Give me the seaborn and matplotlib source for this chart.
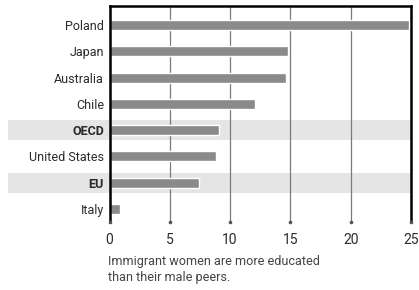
import matplotlib
matplotlib.use("Agg")
import matplotlib.pyplot as plt
import matplotlib.transforms as mtransforms
import seaborn as sns
import pandas as pd

categories = ["Poland", "Japan", "Australia", "Chile", "OECD", "United States", "EU", "Italy"]
values = [24.8, 14.8, 14.6, 12.1, 9.1, 8.8, 7.4, 0.9]
highlight = ["OECD", "EU"]
xticks = [0, 5, 10, 15, 20, 25]
caption = "Immigrant women are more educated\nthan their male peers."

sns.set_theme(style="white")
plt.rcParams['font.family'] = ['Roboto', 'DejaVu Sans']

df = pd.DataFrame({"country": categories, "value": values})

fig = plt.figure(figsize=(4.19, 2.90), dpi=100)
ax = fig.add_axes([109.5/419, 1-222/290, (411-109.5)/419, (222-6)/290])

ylo, yhi = 7.494, -0.723
trans = mtransforms.blended_transform_factory(ax.transAxes, ax.transData)
x0 = (8-109.5)/301.5
for i, c in enumerate(categories):
    if c in highlight:
        ax.add_patch(plt.Rectangle((x0, i-0.38), 1-x0, 0.76, transform=trans,
                                   facecolor="#e5e5e5", edgecolor="none",
                                   clip_on=False, zorder=0))

for t in xticks[1:-1]:
    ax.axvline(t, color="#7a7a7a", lw=0.9, zorder=0.5)

sns.barplot(data=df, y="country", x="value", orient="h", color="#8a8a8a",
            width=0.38, ax=ax, zorder=2, saturation=1)

ax.plot(xticks, [ylo]*len(xticks), 'o', color="#555555", ms=1.6, clip_on=False, zorder=3)

ax.set_xlim(0, 25)
ax.set_ylim(ylo, yhi)
ax.set_xticks(xticks)
ax.set_xticklabels([str(t) for t in xticks])
ax.set_xlabel("")
ax.set_ylabel("")
ax.patch.set_alpha(0)

for s in ["left", "right", "top"]:
    ax.spines[s].set_visible(True)
    ax.spines[s].set_color("black")
    ax.spines[s].set_linewidth(1.8)
ax.spines["bottom"].set_visible(False)

ax.tick_params(axis="x", length=0, pad=8, labelsize=10, labelcolor="#2a2a2a")
ax.tick_params(axis="y", length=0, pad=4, labelsize=9, labelcolor="#2a2a2a")
for lab in ax.get_yticklabels():
    if lab.get_text() in highlight:
        lab.set_fontweight("bold")

fig.text(108/419, 1-255/290, caption, ha="left", va="top", fontsize=9.1,
         color="#444444", linespacing=1.35)

fig.savefig("out.png", dpi=100)
